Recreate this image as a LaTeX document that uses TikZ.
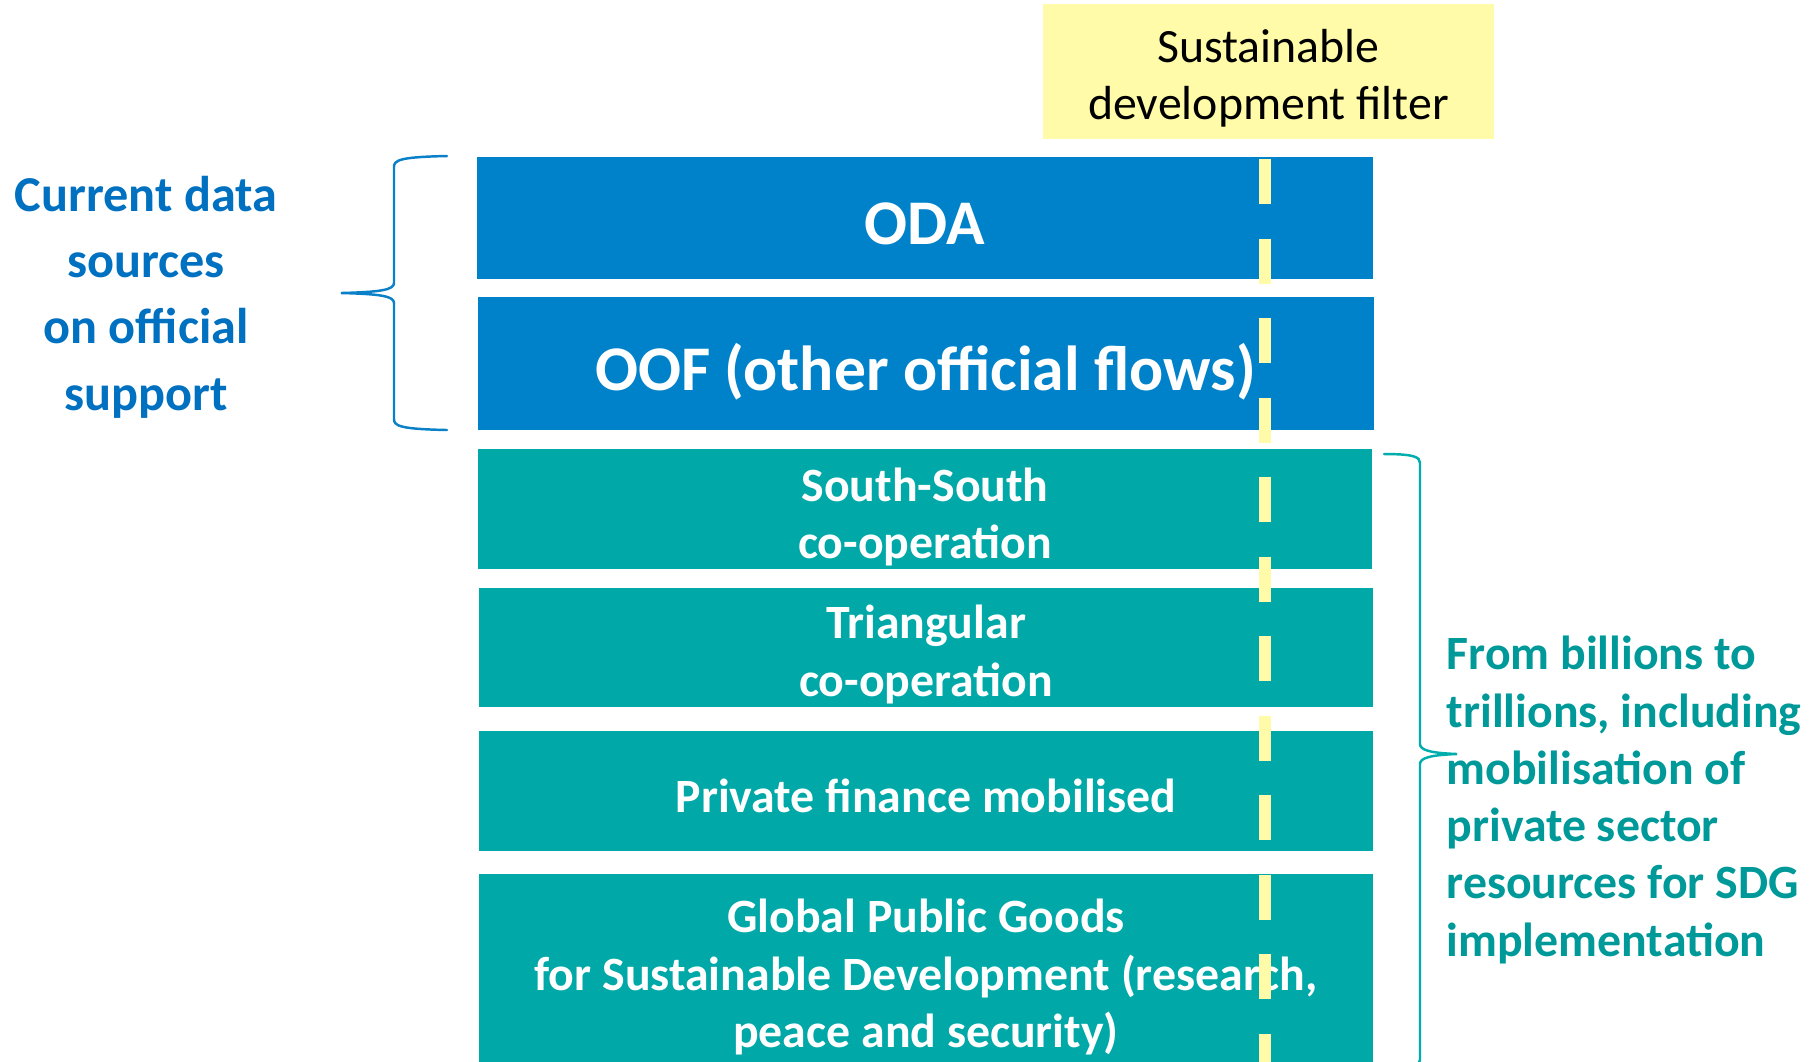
\documentclass[tikz,border=0pt]{standalone}
\usepackage{fontspec}
\setmainfont{Carlito}

\definecolor{odablue}{HTML}{0082CA}
\definecolor{flowteal}{HTML}{00A8A8}
\definecolor{noteteal}{HTML}{009999}
\definecolor{braceteal}{HTML}{00ADAD}
\definecolor{noteblue}{HTML}{0070C0}
\definecolor{braceblue}{HTML}{0A80C8}
\definecolor{filteryellow}{HTML}{FFFBA8}

\begin{document}
\begin{tikzpicture}[every node/.style={font=\fontsize{13.6}{16.3}\selectfont, inner sep=0pt},
	offbox/.style={fill=odablue, minimum width=8.96cm},
	flowbox/.style={fill=flowteal, minimum width=8.94cm},
	offtext/.style={text=white, font=\bfseries\fontsize{18.1}{21.6}\selectfont},
	flowtext/.style={text=white, font=\bfseries\fontsize{13.6}{16.3}\selectfont, align=center},
	bracket/.style={line width=0.7pt, line cap=round}]
	\useasboundingbox (0,0) rectangle (18.2,-10.61);
	\node[fill=filteryellow, minimum width=4.51cm, minimum height=1.35cm] (filter) at (12.685,-0.715) {};
	\node[align=center] (filtertext) at ([yshift=-0.07cm]filter.center) {Sustainable\\development filter};
	\begin{scope}
		\node[offbox, minimum height=1.22cm] (oda) at (9.245,-2.18) {};
		\node[offbox, minimum height=1.33cm] (oof) at (9.255,-3.635) {};
		\node[flowbox, minimum height=1.20cm] (south) at (9.25,-5.09) {};
		\node[flowbox, minimum height=1.19cm] (tri) at (9.26,-6.475) {};
		\node[flowbox, minimum height=1.20cm] (priv) at (9.26,-7.91) {};
		\node[flowbox, minimum height=1.98cm] (gpg) at (9.26,-9.73) {};
		\node[offtext] (odatext) at ([yshift=-0.06cm]oda.center) {ODA};
		\node[offtext] (ooftext) at ([yshift=-0.08cm]oof.center) {OOF (other official flows)};
		\node[flowtext] (southtext) at ([yshift=-0.08cm]south.center) {South-South\\co-operation};
		\node[flowtext] (tritext) at ([yshift=-0.07cm]tri.center) {Triangular\\co-operation};
		\node[flowtext] (privtext) at ([yshift=-0.05cm]priv.center) {Private finance mobilised};
		\node[flowtext] (gpgtext) at ([yshift=-0.04cm]gpg.center) {Global Public Goods\\for Sustainable Development (research,\\peace and security)};
	\end{scope}
	\coordinate (ftop) at (12.65,-1.59);
	\coordinate (fbot) at (12.65,-10.8);
	\draw[filteryellow, line width=0.12cm, dash pattern=on 0.45cm off 0.345cm] (ftop) -- (fbot);
	\begin{scope}
		\coordinate (lbtop) at (4.47,-1.56);
		\coordinate (lbtip) at (3.41,-2.93);
		\coordinate (lbbot) at (4.47,-4.30);
		\draw[braceblue, bracket] (lbtop) .. controls (4.00,-1.57) and (3.94,-1.60) .. (3.94,-1.67) -- (3.94,-2.83)
			.. controls (3.94,-2.90) and (3.80,-2.92) .. (lbtip)
			.. controls (3.80,-2.94) and (3.94,-2.96) .. (3.94,-3.03) -- (3.94,-4.19)
			.. controls (3.94,-4.26) and (4.00,-4.29) .. (lbbot);
		\node[text=noteblue, font=\bfseries\fontsize{14.3}{18.9}\selectfont, align=center] (current) at (1.46,-2.97) {Current data\\sources\\on official\\support};
	\end{scope}
	\begin{scope}
		\coordinate (rbtop) at (13.84,-4.54);
		\coordinate (rbtip) at (14.57,-7.54);
		\coordinate (rbbot) at (13.84,-10.68);
		\draw[braceteal, bracket] (rbtop) .. controls (14.14,-4.54) and (14.20,-4.57) .. (14.20,-4.63) -- (14.20,-7.44)
			.. controls (14.20,-7.50) and (14.30,-7.53) .. (rbtip)
			.. controls (14.30,-7.55) and (14.20,-7.58) .. (14.20,-7.64) -- (14.20,-10.60)
			.. controls (14.20,-10.64) and (14.14,-10.68) .. (rbbot);
		\node[text=noteteal, font=\bfseries\fontsize{13.6}{16.3}\selectfont, align=left, anchor=west] (billions) at (14.46,-8.00) {From billions to\\trillions, including\\mobilisation of\\private sector\\resources for SDG\\implementation};
	\end{scope}
\end{tikzpicture}
\end{document}
